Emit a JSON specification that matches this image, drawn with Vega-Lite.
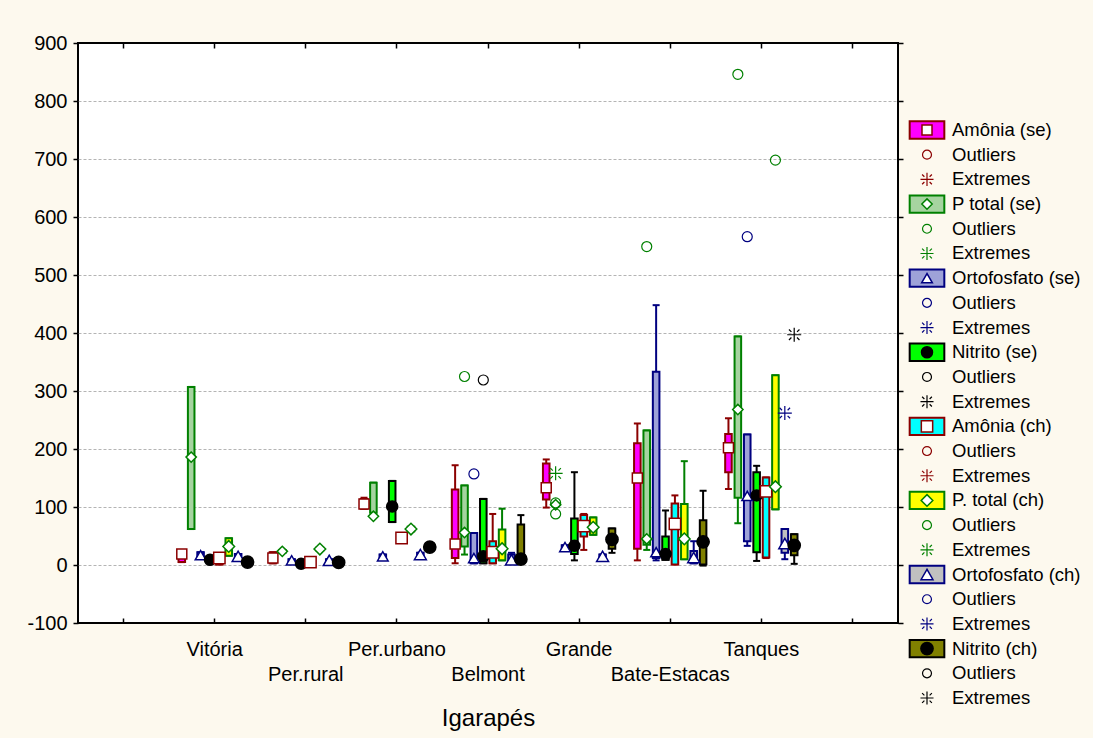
{
  "$schema": "https://vega.github.io/schema/vega-lite/v6.json",
  "background": "#fdf9ee",
  "padding": {"left": 25, "top": 32, "right": 12, "bottom": 12},
  "bounds": "flush",
  "spacing": 8,
  "config": {
    "font": "Liberation Sans",
    "view": {"stroke": null},
    "axis": {"labelColor": "black", "titleColor": "black", "tickColor": "black", "labelFont": "Liberation Sans", "titleFont": "Liberation Sans"}
  },
  "datasets": {
    "boxes": [
      {"site": "Vitória", "series": "Amônia (se)", "min": 5, "q1": 5, "med": 19, "q3": 25, "max": 25},
      {"site": "Vitória", "series": "P total (se)", "min": 62, "q1": 62, "med": 186, "q3": 307, "max": 307},
      {"site": "Vitória", "series": "Ortofosfato (se)", "min": 12, "q1": 12, "med": 17, "q3": 22, "max": 22},
      {"site": "Vitória", "series": "Nitrito (se)", "min": 6, "q1": 6, "med": 9, "q3": 11, "max": 11},
      {"site": "Vitória", "series": "Amônia (ch)", "min": 1, "q1": 1, "med": 12, "q3": 15, "max": 15},
      {"site": "Vitória", "series": "P. total (ch)", "min": 16, "q1": 16, "med": 32, "q3": 46, "max": 46},
      {"site": "Vitória", "series": "Ortofosfato (ch)", "min": 11, "q1": 11, "med": 15, "q3": 19, "max": 19},
      {"site": "Vitória", "series": "Nitrito (ch)", "min": 3, "q1": 3, "med": 5, "q3": 7, "max": 7},

      {"site": "Per.rural", "series": "Amônia (se)", "min": 3, "q1": 3, "med": 12, "q3": 22, "max": 22},
      {"site": "Per.rural", "series": "P total (se)", "min": 21, "q1": 21, "med": 23.5, "q3": 26, "max": 26},
      {"site": "Per.rural", "series": "Ortofosfato (se)", "min": 5, "q1": 5, "med": 8, "q3": 10, "max": 10},
      {"site": "Per.rural", "series": "Nitrito (se)", "min": 1, "q1": 1, "med": 2, "q3": 3, "max": 3},
      {"site": "Per.rural", "series": "Amônia (ch)", "min": 3, "q1": 3, "med": 5, "q3": 7, "max": 7},
      {"site": "Per.rural", "series": "P. total (ch)", "min": 25, "q1": 25, "med": 27.5, "q3": 30, "max": 30},
      {"site": "Per.rural", "series": "Ortofosfato (ch)", "min": 5, "q1": 5, "med": 8, "q3": 10, "max": 10},
      {"site": "Per.rural", "series": "Nitrito (ch)", "min": 3, "q1": 3, "med": 4.5, "q3": 6, "max": 6},

      {"site": "Per.urbano", "series": "Amônia (se)", "min": 97, "q1": 97, "med": 105, "q3": 114, "max": 116},
      {"site": "Per.urbano", "series": "P total (se)", "min": 90, "q1": 90, "med": 84, "q3": 142, "max": 142},
      {"site": "Per.urbano", "series": "Ortofosfato (se)", "min": 12, "q1": 12, "med": 15, "q3": 18, "max": 18},
      {"site": "Per.urbano", "series": "Nitrito (se)", "min": 74, "q1": 74, "med": 101, "q3": 145, "max": 145},
      {"site": "Per.urbano", "series": "Amônia (ch)", "min": 43, "q1": 43, "med": 46.5, "q3": 50, "max": 50},
      {"site": "Per.urbano", "series": "P. total (ch)", "min": 58, "q1": 58, "med": 62, "q3": 66, "max": 66},
      {"site": "Per.urbano", "series": "Ortofosfato (ch)", "min": 15, "q1": 15, "med": 18, "q3": 21, "max": 21},
      {"site": "Per.urbano", "series": "Nitrito (ch)", "min": 28, "q1": 28, "med": 31, "q3": 34, "max": 34},

      {"site": "Belmont", "series": "Amônia (se)", "min": 3, "q1": 12, "med": 36, "q3": 130, "max": 172},
      {"site": "Belmont", "series": "P total (se)", "min": 18, "q1": 32, "med": 56, "q3": 137, "max": 137},
      {"site": "Belmont", "series": "Ortofosfato (se)", "min": 3, "q1": 3, "med": 12, "q3": 55, "max": 55},
      {"site": "Belmont", "series": "Nitrito (se)", "min": 3, "q1": 3, "med": 15, "q3": 114, "max": 114},
      {"site": "Belmont", "series": "Amônia (ch)", "min": 3, "q1": 3, "med": 22, "q3": 41, "max": 88},
      {"site": "Belmont", "series": "P. total (ch)", "min": 8, "q1": 8, "med": 28, "q3": 61, "max": 97},
      {"site": "Belmont", "series": "Ortofosfato (ch)", "min": 3, "q1": 3, "med": 9, "q3": 18, "max": 21},
      {"site": "Belmont", "series": "Nitrito (ch)", "min": 3, "q1": 3, "med": 10, "q3": 70, "max": 86},

      {"site": "Grande", "series": "Amônia (se)", "min": 99, "q1": 113, "med": 133, "q3": 175, "max": 182},
      {"site": "Grande", "series": "P total (se)", "min": 102, "q1": 102, "med": 104, "q3": 106, "max": 106},
      {"site": "Grande", "series": "Ortofosfato (se)", "min": 28, "q1": 28, "med": 31, "q3": 34, "max": 34},
      {"site": "Grande", "series": "Nitrito (se)", "min": 8, "q1": 19, "med": 33, "q3": 80, "max": 160},
      {"site": "Grande", "series": "Amônia (ch)", "min": 26, "q1": 49, "med": 67, "q3": 86, "max": 88},
      {"site": "Grande", "series": "P. total (ch)", "min": 52, "q1": 52, "med": 65, "q3": 82, "max": 82},
      {"site": "Grande", "series": "Ortofosfato (ch)", "min": 12, "q1": 12, "med": 15, "q3": 18, "max": 18},
      {"site": "Grande", "series": "Nitrito (ch)", "min": 21, "q1": 28, "med": 44, "q3": 63, "max": 63},

      {"site": "Bate-Estacas", "series": "Amônia (se)", "min": 8, "q1": 28, "med": 150, "q3": 210, "max": 244},
      {"site": "Bate-Estacas", "series": "P total (se)", "min": 26, "q1": 35, "med": 45, "q3": 232, "max": 232},
      {"site": "Bate-Estacas", "series": "Ortofosfato (se)", "min": 8, "q1": 12, "med": 22, "q3": 333, "max": 448},
      {"site": "Bate-Estacas", "series": "Nitrito (se)", "min": 9, "q1": 9, "med": 19, "q3": 49, "max": 94},
      {"site": "Bate-Estacas", "series": "Amônia (ch)", "min": 1, "q1": 1, "med": 71, "q3": 106, "max": 120},
      {"site": "Bate-Estacas", "series": "P. total (ch)", "min": 10, "q1": 10, "med": 45, "q3": 105, "max": 179},
      {"site": "Bate-Estacas", "series": "Ortofosfato (ch)", "min": 3, "q1": 3, "med": 13, "q3": 24, "max": 41},
      {"site": "Bate-Estacas", "series": "Nitrito (ch)", "min": -1, "q1": 1, "med": 40, "q3": 77, "max": 128},

      {"site": "Tanques", "series": "Amônia (se)", "min": 131, "q1": 160, "med": 202, "q3": 226, "max": 253},
      {"site": "Tanques", "series": "P total (se)", "min": 72, "q1": 116, "med": 268, "q3": 394, "max": 394},
      {"site": "Tanques", "series": "Ortofosfato (se)", "min": 33, "q1": 41, "med": 119, "q3": 225, "max": 225},
      {"site": "Tanques", "series": "Nitrito (se)", "min": 7, "q1": 22, "med": 120, "q3": 160, "max": 171},
      {"site": "Tanques", "series": "Amônia (ch)", "min": 12, "q1": 13, "med": 127, "q3": 151, "max": 151},
      {"site": "Tanques", "series": "P. total (ch)", "min": 96, "q1": 96, "med": 135, "q3": 327, "max": 327},
      {"site": "Tanques", "series": "Ortofosfato (ch)", "min": 10, "q1": 21, "med": 37, "q3": 62, "max": 62},
      {"site": "Tanques", "series": "Nitrito (ch)", "min": 2, "q1": 17, "med": 34, "q3": 53, "max": 53}
    ],
    "outliers": [
      {"site": "Belmont", "series": "P total (se)", "value": 325, "kind": "Outliers"},
      {"site": "Belmont", "series": "Ortofosfato (se)", "value": 157, "kind": "Outliers"},
      {"site": "Belmont", "series": "Nitrito (se)", "value": 319, "kind": "Outliers"},
      {"site": "Grande", "series": "P total (se)", "value": 107, "kind": "Outliers"},
      {"site": "Grande", "series": "P total (se)", "value": 88, "kind": "Outliers"},
      {"site": "Grande", "series": "P total (se)", "value": 158, "kind": "Extremes"},
      {"site": "Bate-Estacas", "series": "P total (se)", "value": 549, "kind": "Outliers"},
      {"site": "Tanques", "series": "P total (se)", "value": 846, "kind": "Outliers"},
      {"site": "Tanques", "series": "Ortofosfato (se)", "value": 566, "kind": "Outliers"},
      {"site": "Tanques", "series": "P. total (ch)", "value": 698, "kind": "Outliers"},
      {"site": "Tanques", "series": "Ortofosfato (ch)", "value": 262, "kind": "Extremes"},
      {"site": "Tanques", "series": "Nitrito (ch)", "value": 397, "kind": "Extremes"}
    ],
    "legend": [
      {"entry": "Amônia (se)", "series": "Amônia (se)", "kind": "box", "label": "Amônia (se)"},
      {"entry": "Amônia (se) Outliers", "series": "Amônia (se)", "kind": "outlier", "label": "Outliers"},
      {"entry": "Amônia (se) Extremes", "series": "Amônia (se)", "kind": "extreme", "label": "Extremes"},
      {"entry": "P total (se)", "series": "P total (se)", "kind": "box", "label": "P total (se)"},
      {"entry": "P total (se) Outliers", "series": "P total (se)", "kind": "outlier", "label": "Outliers"},
      {"entry": "P total (se) Extremes", "series": "P total (se)", "kind": "extreme", "label": "Extremes"},
      {"entry": "Ortofosfato (se)", "series": "Ortofosfato (se)", "kind": "box", "label": "Ortofosfato (se)"},
      {"entry": "Ortofosfato (se) Outliers", "series": "Ortofosfato (se)", "kind": "outlier", "label": "Outliers"},
      {"entry": "Ortofosfato (se) Extremes", "series": "Ortofosfato (se)", "kind": "extreme", "label": "Extremes"},
      {"entry": "Nitrito (se)", "series": "Nitrito (se)", "kind": "box", "label": "Nitrito (se)"},
      {"entry": "Nitrito (se) Outliers", "series": "Nitrito (se)", "kind": "outlier", "label": "Outliers"},
      {"entry": "Nitrito (se) Extremes", "series": "Nitrito (se)", "kind": "extreme", "label": "Extremes"},
      {"entry": "Amônia (ch)", "series": "Amônia (ch)", "kind": "box", "label": "Amônia (ch)"},
      {"entry": "Amônia (ch) Outliers", "series": "Amônia (ch)", "kind": "outlier", "label": "Outliers"},
      {"entry": "Amônia (ch) Extremes", "series": "Amônia (ch)", "kind": "extreme", "label": "Extremes"},
      {"entry": "P. total (ch)", "series": "P. total (ch)", "kind": "box", "label": "P. total (ch)"},
      {"entry": "P. total (ch) Outliers", "series": "P. total (ch)", "kind": "outlier", "label": "Outliers"},
      {"entry": "P. total (ch) Extremes", "series": "P. total (ch)", "kind": "extreme", "label": "Extremes"},
      {"entry": "Ortofosfato (ch)", "series": "Ortofosfato (ch)", "kind": "box", "label": "Ortofosfato (ch)"},
      {"entry": "Ortofosfato (ch) Outliers", "series": "Ortofosfato (ch)", "kind": "outlier", "label": "Outliers"},
      {"entry": "Ortofosfato (ch) Extremes", "series": "Ortofosfato (ch)", "kind": "extreme", "label": "Extremes"},
      {"entry": "Nitrito (ch)", "series": "Nitrito (ch)", "kind": "box", "label": "Nitrito (ch)"},
      {"entry": "Nitrito (ch) Outliers", "series": "Nitrito (ch)", "kind": "outlier", "label": "Outliers"},
      {"entry": "Nitrito (ch) Extremes", "series": "Nitrito (ch)", "kind": "extreme", "label": "Extremes"}
    ]
  },
  "hconcat": [
    {
      "width": 820,
      "height": 580,
      "view": {"fill": "white", "stroke": "black", "strokeWidth": 2},
      "resolve": {"axis": {"x": "independent", "y": "independent"}},
      "encoding": {
        "x": {"field": "site", "type": "nominal",
              "scale": {"domain": [" ", "Vitória", "Per.rural", "Per.urbano", "Belmont", "Grande", "Bate-Estacas", "Tanques", "  "], "paddingInner": 0, "paddingOuter": 0},
              "axis": null},
        "xOffset": {"field": "series", "type": "nominal",
                    "scale": {"domain": ["Amônia (se)", "P total (se)", "Ortofosfato (se)", "Nitrito (se)", "Amônia (ch)", "P. total (ch)", "Ortofosfato (ch)", "Nitrito (ch)"], "paddingInner": 0.3, "paddingOuter": 1.15}},
        "stroke": {"field": "series", "type": "nominal",
                   "scale": {"domain": ["Amônia (se)", "P total (se)", "Ortofosfato (se)", "Nitrito (se)", "Amônia (ch)", "P. total (ch)", "Ortofosfato (ch)", "Nitrito (ch)"],
                             "range": ["#8b0000", "#008000", "#000080", "#000000", "#8b0000", "#008000", "#000080", "#000000"]},
                   "legend": null}
      },
      "layer": [
        {
          "data": {"name": "boxes"},
          "mark": {"type": "rule", "strokeWidth": 2},
          "encoding": {
            "x": {"field": "site", "type": "nominal",
                  "axis": {"orient": "bottom", "title": "Igarapés", "titleFontSize": 24, "titleFontWeight": "normal", "titlePadding": 22,
                           "labelFontSize": 20, "labelAngle": 0, "labelOverlap": false, "labelPadding": 21, "labelLineHeight": 25,
                           "labelExpr": "indexof(['Per.rural', 'Belmont', 'Bate-Estacas'], datum.value) >= 0 ? ['', datum.value] : datum.value",
                           "tickSize": -5, "tickWidth": 1.5, "domain": false, "grid": false}},
            "y": {"field": "min", "type": "quantitative",
                  "scale": {"domain": [-100, 900], "nice": false, "zero": false},
                  "axis": {"orient": "left", "title": null, "values": [-100, 0, 100, 200, 300, 400, 500, 600, 700, 800, 900],
                           "labelExpr": "datum.value + ''",
                           "labelFontSize": 20, "tickSize": 5, "tickWidth": 1.5, "labelPadding": 6, "domain": false,
                           "grid": true, "gridColor": "#b4b4b4", "gridDash": [3, 2], "gridWidth": 1,
                           "gridOpacity": {"condition": {"test": "datum.value == 900 || datum.value == -100", "value": 0}, "value": 1}}},
            "y2": {"field": "max"}
          }
        },
        {
          "data": {"name": "boxes"},
          "mark": {"type": "point", "shape": "M-1,0H1", "size": 49, "strokeWidth": 2, "filled": false, "opacity": 1},
          "encoding": {
            "x": {"field": "site", "type": "nominal",
                  "axis": {"orient": "top", "title": null, "labels": false, "tickSize": -5, "tickWidth": 1.5, "domain": false, "grid": false}},
            "y": {"field": "max", "type": "quantitative",
                  "axis": {"orient": "right", "title": null, "labels": false, "values": [-100, 0, 100, 200, 300, 400, 500, 600, 700, 800, 900],
                           "tickSize": 5, "tickWidth": 1.5, "domain": false, "grid": false}}
          }
        },
        {
          "data": {"name": "boxes"},
          "mark": {"type": "point", "shape": "M-1,0H1", "size": 49, "strokeWidth": 2, "filled": false, "opacity": 1},
          "encoding": {
            "y": {"field": "min", "type": "quantitative", "axis": null}
          }
        },
        {
          "data": {"name": "boxes"},
          "mark": {"type": "bar", "strokeWidth": 2, "opacity": 1},
          "encoding": {
            "y": {"field": "q1", "type": "quantitative", "axis": null},
            "y2": {"field": "q3"},
            "fill": {"field": "series", "type": "nominal",
                     "scale": {"domain": ["Amônia (se)", "P total (se)", "Ortofosfato (se)", "Nitrito (se)", "Amônia (ch)", "P. total (ch)", "Ortofosfato (ch)", "Nitrito (ch)"],
                               "range": ["#ff00ff", "#a6d4a0", "#9ea2d8", "#00ff00", "#00ffff", "#ffff00", "#c0c0c0", "#808000"]},
                     "legend": null}
          }
        },
        {
          "data": {"name": "boxes"},
          "mark": {"type": "point", "filled": true, "strokeWidth": 1.5, "opacity": 1},
          "encoding": {
            "y": {"field": "med", "type": "quantitative", "axis": null},
            "shape": {"field": "series", "type": "nominal",
                      "scale": {"domain": ["Amônia (se)", "P total (se)", "Ortofosfato (se)", "Nitrito (se)", "Amônia (ch)", "P. total (ch)", "Ortofosfato (ch)", "Nitrito (ch)"],
                                "range": ["square", "diamond", "triangle-up", "circle", "square", "diamond", "triangle-up", "circle"]},
                      "legend": null},
            "size": {"field": "series", "type": "nominal",
                     "scale": {"domain": ["Amônia (se)", "P total (se)", "Ortofosfato (se)", "Nitrito (se)", "Amônia (ch)", "P. total (ch)", "Ortofosfato (ch)", "Nitrito (ch)"],
                               "range": [100, 150, 120, 130, 100, 150, 120, 130]},
                     "legend": null},
            "fill": {"condition": {"test": "indexof(datum.series, 'Nitrito') >= 0", "value": "black"}, "value": "white"}
          }
        },
        {
          "data": {"name": "outliers"},
          "transform": [{"filter": "datum.kind == 'Outliers'"}],
          "mark": {"type": "point", "shape": "circle", "filled": false, "size": 100, "strokeWidth": 1.2, "opacity": 1},
          "encoding": {
            "y": {"field": "value", "type": "quantitative", "axis": null}
          }
        },
        {
          "data": {"name": "outliers"},
          "transform": [{"filter": "datum.kind == 'Extremes'"}],
          "mark": {"type": "point", "shape": "M-1,0H1M0,-1V1M-0.75,-0.75L-0.4,-0.4M0.4,0.4L0.75,0.75M-0.75,0.75L-0.4,0.4M0.4,-0.4L0.75,-0.75", "filled": false, "size": 196, "strokeWidth": 1.2, "opacity": 1},
          "encoding": {
            "y": {"field": "value", "type": "quantitative", "axis": null}
          }
        }
      ]
    },
    {
      "width": 180,
      "height": 680,
      "data": {"name": "legend"},
      "encoding": {
        "y": {"field": "entry", "type": "nominal",
              "scale": {"type": "point", "padding": 0, "range": [87, 655],
                        "domain": ["Amônia (se)", "Amônia (se) Outliers", "Amônia (se) Extremes",
                                   "P total (se)", "P total (se) Outliers", "P total (se) Extremes",
                                   "Ortofosfato (se)", "Ortofosfato (se) Outliers", "Ortofosfato (se) Extremes",
                                   "Nitrito (se)", "Nitrito (se) Outliers", "Nitrito (se) Extremes",
                                   "Amônia (ch)", "Amônia (ch) Outliers", "Amônia (ch) Extremes",
                                   "P. total (ch)", "P. total (ch) Outliers", "P. total (ch) Extremes",
                                   "Ortofosfato (ch)", "Ortofosfato (ch) Outliers", "Ortofosfato (ch) Extremes",
                                   "Nitrito (ch)", "Nitrito (ch) Outliers", "Nitrito (ch) Extremes"]},
              "axis": null},
        "x": {"datum": "symbol", "type": "nominal",
              "scale": {"type": "point", "domain": ["symbol", "label"], "range": [21, 46], "padding": 0},
              "axis": null},
        "stroke": {"field": "series", "type": "nominal",
                   "scale": {"domain": ["Amônia (se)", "P total (se)", "Ortofosfato (se)", "Nitrito (se)", "Amônia (ch)", "P. total (ch)", "Ortofosfato (ch)", "Nitrito (ch)"],
                             "range": ["#8b0000", "#008000", "#000080", "#000000", "#8b0000", "#008000", "#000080", "#000000"]},
                   "legend": null}
      },
      "layer": [
        {
          "transform": [{"filter": "datum.kind == 'box'"}],
          "mark": {"type": "point", "shape": "M-2,-1H2V1H-2Z", "size": 300, "filled": true, "strokeWidth": 2, "opacity": 1},
          "encoding": {
            "fill": {"field": "series", "type": "nominal",
                     "scale": {"domain": ["Amônia (se)", "P total (se)", "Ortofosfato (se)", "Nitrito (se)", "Amônia (ch)", "P. total (ch)", "Ortofosfato (ch)", "Nitrito (ch)"],
                               "range": ["#ff00ff", "#a6d4a0", "#9ea2d8", "#00ff00", "#00ffff", "#ffff00", "#c0c0c0", "#808000"]},
                     "legend": null}
          }
        },
        {
          "transform": [{"filter": "datum.kind == 'box'"}],
          "mark": {"type": "point", "filled": true, "strokeWidth": 1.5, "opacity": 1},
          "encoding": {
            "shape": {"field": "series", "type": "nominal",
                      "scale": {"domain": ["Amônia (se)", "P total (se)", "Ortofosfato (se)", "Nitrito (se)", "Amônia (ch)", "P. total (ch)", "Ortofosfato (ch)", "Nitrito (ch)"],
                                "range": ["square", "diamond", "triangle-up", "circle", "square", "diamond", "triangle-up", "circle"]},
                      "legend": null},
            "size": {"field": "series", "type": "nominal",
                     "scale": {"domain": ["Amônia (se)", "P total (se)", "Ortofosfato (se)", "Nitrito (se)", "Amônia (ch)", "P. total (ch)", "Ortofosfato (ch)", "Nitrito (ch)"],
                               "range": [100, 150, 120, 130, 100, 150, 120, 130]},
                     "legend": null},
            "fill": {"condition": {"test": "indexof(datum.series, 'Nitrito') >= 0", "value": "black"}, "value": "white"}
          }
        },
        {
          "transform": [{"filter": "datum.kind == 'outlier'"}],
          "mark": {"type": "point", "shape": "circle", "filled": false, "size": 80, "strokeWidth": 1.2, "opacity": 1}
        },
        {
          "transform": [{"filter": "datum.kind == 'extreme'"}],
          "mark": {"type": "point", "shape": "M-1,0H1M0,-1V1M-0.75,-0.75L-0.4,-0.4M0.4,0.4L0.75,0.75M-0.75,0.75L-0.4,0.4M0.4,-0.4L0.75,-0.75", "filled": false, "size": 170, "strokeWidth": 1.2, "opacity": 1}
        },
        {
          "mark": {"type": "text", "align": "left", "baseline": "middle", "fontSize": 18.5, "color": "black"},
          "encoding": {
            "x": {"datum": "label", "type": "nominal", "axis": null},
            "text": {"field": "label"},
            "stroke": {"value": null}
          }
        }
      ]
    }
  ]
}
